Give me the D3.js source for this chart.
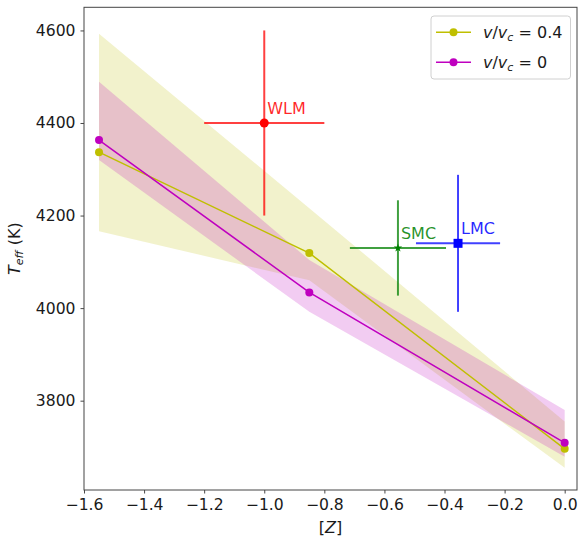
<!DOCTYPE html>
<html>
<head>
<meta charset="utf-8">
<script src="https://cdn.jsdelivr.net/npm/d3@7"></script>
<style>
  html, body { margin: 0; padding: 0; background: #fff; }
  svg { display: block; font-family: "DejaVu Sans", sans-serif; }
</style>
</head>
<body>
<svg id="chart" width="578" height="539"></svg>
<script>
// ---- data ----
const zVals = [-1.55, -0.85, 0.0];
const teffRot = [4337, 4119, 3696];
const teffRotLo = [4166, 4060, 3655];
const teffRotHi = [4593, 4216, 3755];
const teffNoRot = [4363, 4034, 3709];
const teffNoRotLo = [4320, 3992, 3679];
const teffNoRotHi = [4489, 4104, 3780];

const galNames = ["WLM", "SMC", "LMC"];
const galZ = [-1.0, -0.555, -0.355];
const galZerr = [0.2, 0.16, 0.14];
const galTeff = [4400, 4130, 4140];
const galTeffErr = [200, 103, 148];
const galColors = ["#ff0000", "#008000", "#0000ff"];
const galMarkers = ["circle", "star", "square"];

const xTicks = [-1.6, -1.4, -1.2, -1.0, -0.8, -0.6, -0.4, -0.2, 0.0];
const yTicks = [3800, 4000, 4200, 4400, 4600];

const seriesLabels = ["0.4", "0"];
const seriesColors = ["#bfbf00", "#bf00bf"];

// ---- layout ----
const svg = d3.select("#chart");
const L = 84, R = 577, T = 7.3, B = 490;
const x = d3.scaleLinear().domain([-1.6, 0.041]).range([L, R]);
const y = d3.scaleLinear().domain([3607, 4650]).range([B, T]);

const g = svg.append("g");

// bands
const bands = [
  {lo: teffRotLo, hi: teffRotHi, color: seriesColors[0]},
  {lo: teffNoRotLo, hi: teffNoRotHi, color: seriesColors[1]}
];
const area = d3.area()
  .x(d => x(d.z)).y0(d => y(d.lo)).y1(d => y(d.hi));
bands.forEach(b => {
  const pts = zVals.map((z, i) => ({z, lo: b.lo[i], hi: b.hi[i]}));
  g.append("path").attr("d", area(pts))
    .attr("fill", b.color).attr("fill-opacity", 0.2);
});

// lines
const line = d3.line().x(d => x(d.z)).y(d => y(d.t));
[teffRot, teffNoRot].forEach((arr, k) => {
  const pts = zVals.map((z, i) => ({z, t: arr[i]}));
  g.append("path").attr("d", line(pts))
    .attr("fill", "none").attr("stroke", seriesColors[k]).attr("stroke-width", 1.5);
  g.selectAll(null).data(pts).enter().append("circle")
    .attr("cx", d => x(d.z)).attr("cy", d => y(d.t)).attr("r", 4)
    .attr("fill", seriesColors[k]);
});

// galaxies error bars
galNames.forEach((name, i) => {
  const c = galColors[i];
  const cx = x(galZ[i]), cy = y(galTeff[i]);
  const eg = g.append("g");
  eg.append("line")
    .attr("x1", x(galZ[i] - galZerr[i])).attr("x2", x(galZ[i] + galZerr[i]))
    .attr("y1", cy).attr("y2", cy)
    .attr("stroke", c).attr("stroke-opacity", 0.75).attr("stroke-width", 2);
  eg.append("line")
    .attr("x1", cx).attr("x2", cx)
    .attr("y1", y(galTeff[i] - galTeffErr[i])).attr("y2", y(galTeff[i] + galTeffErr[i]))
    .attr("stroke", c).attr("stroke-opacity", 0.75).attr("stroke-width", 2);
  const m = galMarkers[i];
  if (m === "circle") {
    eg.append("circle").attr("cx", cx).attr("cy", cy).attr("r", 4.5).attr("fill", c);
  } else if (m === "square") {
    eg.append("rect").attr("x", cx - 4.5).attr("y", cy - 4.5)
      .attr("width", 9).attr("height", 9).attr("fill", c);
  } else {
    eg.append("path").attr("d", d3.symbol(d3.symbolStar, 22)())
      .attr("transform", `translate(${cx},${cy})`).attr("fill", c);
  }
  eg.append("text")
    .attr("x", x(galZ[i] + 0.01)).attr("y", y(galTeff[i] + 20))
    .attr("fill", c).attr("fill-opacity", 0.85)
    .attr("font-size", 16).text(name);
});

// axes
const xAxis = d3.axisBottom(x).tickValues(xTicks).tickFormat(d3.format(".1f"))
  .tickSize(3.5).tickPadding(5);
const yAxis = d3.axisLeft(y).tickValues(yTicks).tickFormat(d3.format("d"))
  .tickSize(3.5).tickPadding(5);
const gx = svg.append("g").attr("transform", `translate(0,${B})`).call(xAxis);
const gy = svg.append("g").attr("transform", `translate(${L},0)`).call(yAxis);
[gx, gy].forEach(a => {
  a.select(".domain").remove();
  a.selectAll(".tick line").attr("stroke", "#333").attr("stroke-width", 0.9);
  a.selectAll(".tick text").attr("fill", "#1a1a1a")
    .attr("font-size", 15.6).attr("font-family", "DejaVu Sans");
});

// frame
svg.append("rect").attr("x", L).attr("y", T).attr("width", R - L).attr("height", B - T)
  .attr("fill", "none").attr("stroke", "#444").attr("stroke-width", 1);

// axis labels
const xl = svg.append("text").attr("x", (L + R) / 2).attr("y", 533)
  .attr("text-anchor", "middle").attr("font-size", 16).attr("fill", "#1a1a1a");
xl.append("tspan").text("[");
xl.append("tspan").attr("font-style", "italic").text("Z");
xl.append("tspan").text("]");

const yl = svg.append("text")
  .attr("transform", `translate(20,${(T + B) / 2}) rotate(-90)`)
  .attr("text-anchor", "middle").attr("font-size", 16).attr("fill", "#1a1a1a");
yl.append("tspan").attr("font-style", "italic").text("T");
yl.append("tspan").attr("font-style", "italic").attr("font-size", 11).attr("dy", 3).text("eff");
yl.append("tspan").attr("dy", -3).text(" (K)");

// legend
const lg = svg.append("g");
lg.append("rect").attr("x", 431).attr("y", 16).attr("width", 139.5).attr("height", 63)
  .attr("rx", 3).attr("fill", "#fff").attr("fill-opacity", 0.8)
  .attr("stroke", "#d0d0d0").attr("stroke-width", 1);
seriesLabels.forEach((lab, i) => {
  const ly = 32.3 + i * 30;
  lg.append("line").attr("x1", 436).attr("x2", 471).attr("y1", ly).attr("y2", ly)
    .attr("stroke", seriesColors[i]).attr("stroke-width", 1.5);
  lg.append("circle").attr("cx", 453.5).attr("cy", ly).attr("r", 4).attr("fill", seriesColors[i]);
  const t = lg.append("text").attr("x", 483).attr("y", ly + 5.5)
    .attr("font-size", 16).attr("fill", "#1a1a1a");
  t.append("tspan").attr("font-style", "italic").text("v");
  t.append("tspan").text("/");
  t.append("tspan").attr("font-style", "italic").text("v");
  t.append("tspan").attr("font-style", "italic").attr("font-size", 11).attr("dy", 3).text("c");
  t.append("tspan").attr("dy", -3).text(" = " + lab);
});
</script>
</body>
</html>
